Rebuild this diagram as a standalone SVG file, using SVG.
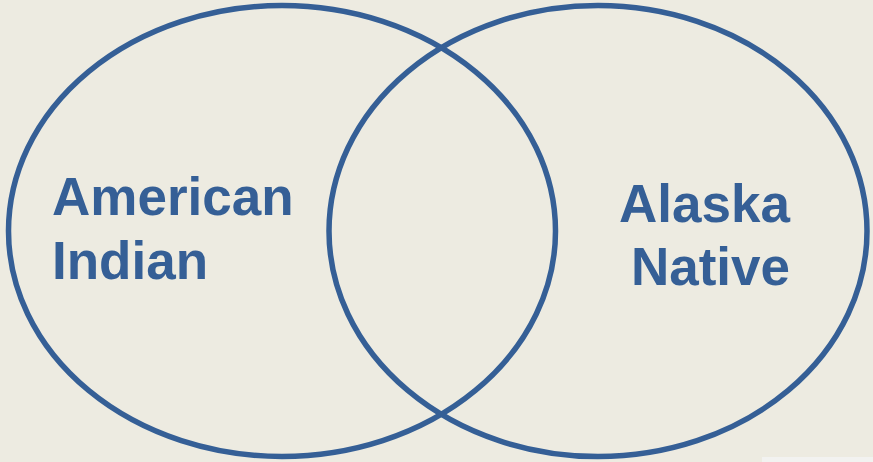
<svg xmlns="http://www.w3.org/2000/svg" width="873" height="462" viewBox="0 0 873 462">
<style>
.ring{fill:none;stroke:#355F96;stroke-width:5.5}
.lbl{font-family:"Liberation Sans",Arial,sans-serif;font-weight:bold;font-size:53px;fill:#355F96}
</style>
<rect width="873" height="462" fill="#EDEBE1"/>
<rect x="762" y="457" width="111" height="5" fill="#F2F2F0"/>
<g id="american-indian">
<ellipse class="ring" cx="282" cy="231" rx="273.5" ry="225.5"/>
<text class="lbl" x="52" y="215">American</text>
<text class="lbl" x="52" y="279">Indian</text>
</g>
<g id="alaska-native">
<ellipse class="ring" cx="598" cy="231" rx="269" ry="225.5"/>
<text class="lbl" x="790" y="221.5" text-anchor="end">Alaska</text>
<text class="lbl" x="790" y="285" text-anchor="end">Native</text>
</g>
</svg>
